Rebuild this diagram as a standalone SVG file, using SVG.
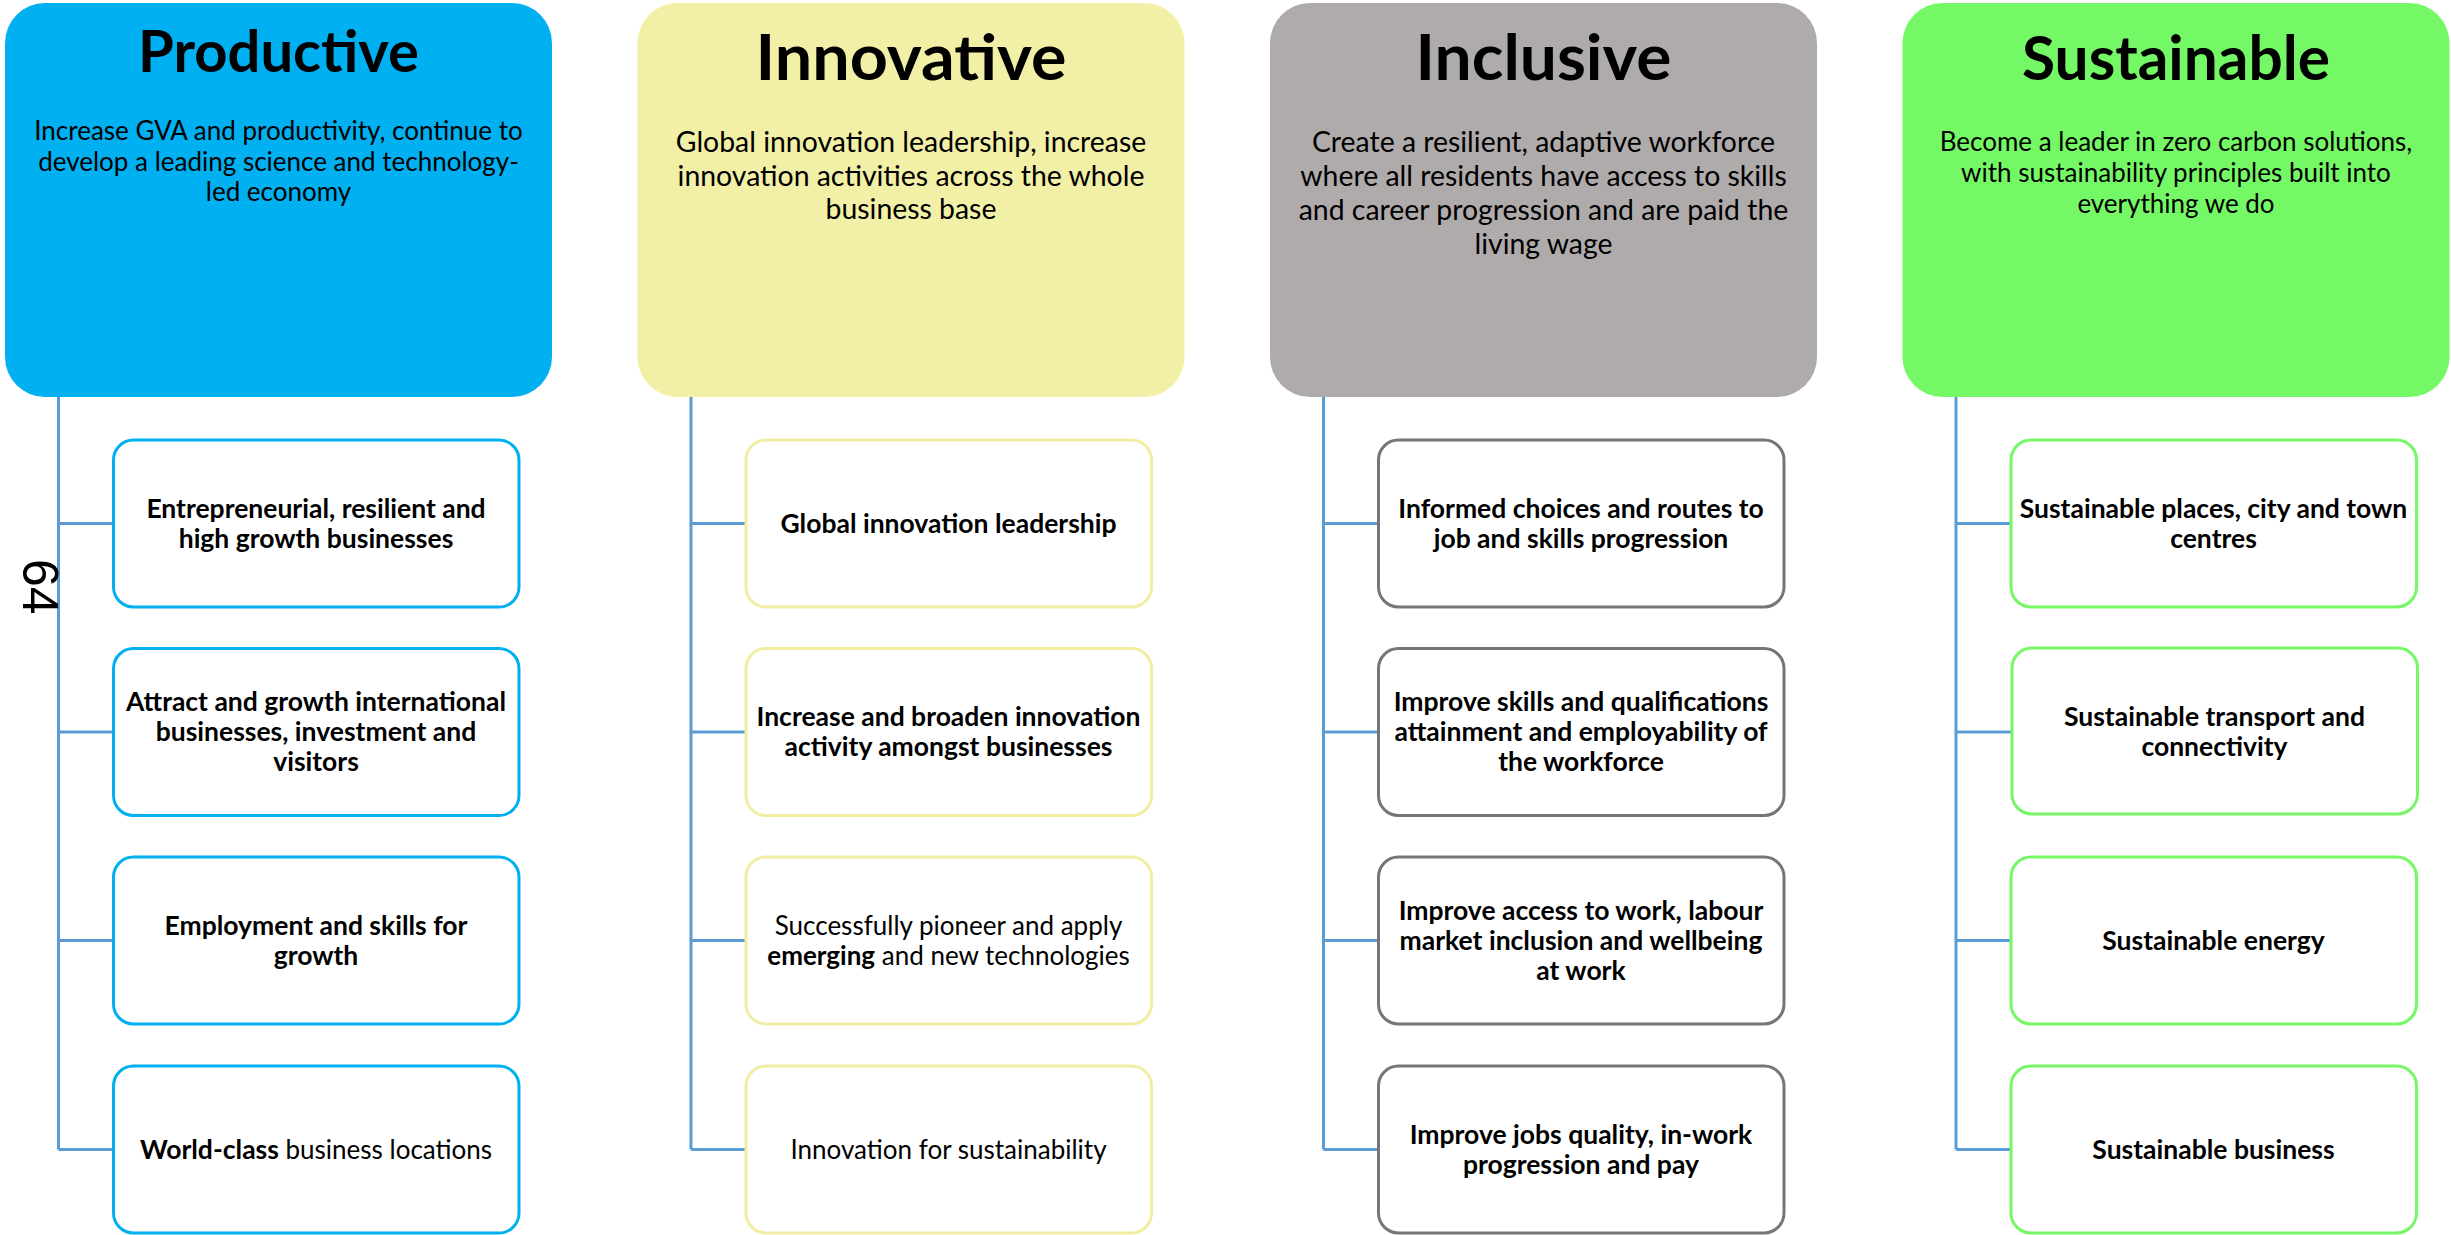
<svg xmlns="http://www.w3.org/2000/svg" width="2451" height="1235" viewBox="0 0 2451 1235">
<style>
text{font-family:Lato,"Open Sans","Liberation Sans",sans-serif;fill:#000;text-anchor:middle}
.title{font-weight:700}
.desc{font-size:26px}
.desc2{font-size:28.4px}
.ct{font-size:26.5px;font-weight:700}
.r{font-weight:400;font-size:26px}
.b{font-weight:700}
.conn{stroke:#5B9BD5;stroke-width:3;fill:none}
.c1{fill:#fff;stroke:#00B0F0;stroke-width:3}
.c2{fill:#fff;stroke:#F1EEA3;stroke-width:3}
.c3{fill:#fff;stroke:#767676;stroke-width:3}
.c4{fill:#fff;stroke:#75F766;stroke-width:3}
.page{font-family:"Liberation Sans",Arial,sans-serif;font-size:50px;text-anchor:start}
</style>
<rect width="2451" height="1235" fill="#fff"/>

<g id="connectors">
<path class="conn" d="M58.5 397V1149.5M58.5 523.5H113.5M58.5 732H113.5M58.5 940.5H113.5M58.5 1149.5H113.5"/>
<path class="conn" d="M691 397V1149.5M691 523.5H746M691 732H746M691 940.5H746M691 1149.5H746"/>
<path class="conn" d="M1323.5 397V1149.5M1323.5 523.5H1378.5M1323.5 732H1378.5M1323.5 940.5H1378.5M1323.5 1149.5H1378.5"/>
<path class="conn" d="M1956 397V1149.5M1956 523.5H2011M1956 732H2011M1956 940.5H2011M1956 1149.5H2011"/>
</g>

<g id="productive">
<rect x="5" y="3" width="547" height="394" rx="40" fill="#00B0F0"/>
<text class="title" x="278.5" y="72" font-size="57" textLength="281" lengthAdjust="spacingAndGlyphs">Productive</text>
<text class="desc" x="278.5" y="140">Increase GVA and productivity, continue to</text>
<text class="desc" x="278.5" y="170.5">develop a leading science and technology-</text>
<text class="desc" x="278.5" y="201">led economy</text>
</g>
<g id="innovative">
<rect x="637.5" y="3" width="547" height="394" rx="40" fill="#F2EFA6"/>
<text class="title" x="911" y="80" font-size="64" textLength="311" lengthAdjust="spacingAndGlyphs">Innovative</text>
<text class="desc2" x="911" y="152">Global innovation leadership, increase</text>
<text class="desc2" x="911" y="185.5">innovation activities across the whole</text>
<text class="desc2" x="911" y="219">business base</text>
</g>
<g id="inclusive">
<rect x="1270" y="3" width="547" height="394" rx="40" fill="#AFABAB"/>
<text class="title" x="1543.5" y="80" font-size="64" textLength="256" lengthAdjust="spacingAndGlyphs">Inclusive</text>
<text class="desc2" x="1543.5" y="152">Create a resilient, adaptive workforce</text>
<text class="desc2" x="1543.5" y="186">where all residents have access to skills</text>
<text class="desc2" x="1543.5" y="220">and career progression and are paid the</text>
<text class="desc2" x="1543.5" y="254">living wage</text>
</g>
<g id="sustainable">
<rect x="1902.5" y="3" width="547" height="394" rx="40" fill="#75F866"/>
<text class="title" x="2176" y="80" font-size="61" textLength="308" lengthAdjust="spacingAndGlyphs">Sustainable</text>
<text class="desc" x="2176" y="150.5">Become a leader in zero carbon solutions,</text>
<text class="desc" x="2176" y="181.5">with sustainability principles built into</text>
<text class="desc" x="2176" y="212.5">everything we do</text>
</g>

<g id="p1"><rect class="c1" x="113.5" y="440" width="405.5" height="167" rx="20"/>
<text class="ct" x="316" y="517.5">Entrepreneurial, resilient and</text>
<text class="ct" x="316" y="547.5">high growth businesses</text></g>
<g id="p2"><rect class="c1" x="113.5" y="648.5" width="405.5" height="167" rx="20"/>
<text class="ct" x="316" y="711">Attract and growth international</text>
<text class="ct" x="316" y="741">businesses, investment and</text>
<text class="ct" x="316" y="771">visitors</text></g>
<g id="p3"><rect class="c1" x="113.5" y="857" width="405.5" height="167" rx="20"/>
<text class="ct" x="316" y="934.5">Employment and skills for</text>
<text class="ct" x="316" y="964.5">growth</text></g>
<g id="p4"><rect class="c1" x="113.5" y="1066" width="405.5" height="167" rx="20"/>
<text class="ct" x="316" y="1158.5"><tspan class="b">World-class</tspan><tspan class="r"> business locations</tspan></text></g>

<g id="i1"><rect class="c2" x="746" y="440" width="405.5" height="167" rx="20"/>
<text class="ct" x="948.5" y="532.5">Global innovation leadership</text></g>
<g id="i2"><rect class="c2" x="746" y="648.5" width="405.5" height="167" rx="20"/>
<text class="ct" x="948.5" y="726">Increase and broaden innovation</text>
<text class="ct" x="948.5" y="756">activity amongst businesses</text></g>
<g id="i3"><rect class="c2" x="746" y="857" width="405.5" height="167" rx="20"/>
<text class="ct r" x="948.5" y="934.5">Successfully pioneer and apply</text>
<text class="ct r" x="948.5" y="964.5"><tspan class="b">emerging</tspan> and new technologies</text></g>
<g id="i4"><rect class="c2" x="746" y="1066" width="405.5" height="167" rx="20"/>
<text class="ct r" x="948.5" y="1158.5">Innovation for sustainability</text></g>

<g id="n1"><rect class="c3" x="1378.5" y="440" width="405.5" height="167" rx="20"/>
<text class="ct" x="1581" y="517.5">Informed choices and routes to</text>
<text class="ct" x="1581" y="547.5">job and skills progression</text></g>
<g id="n2"><rect class="c3" x="1378.5" y="648.5" width="405.5" height="167" rx="20"/>
<text class="ct" x="1581" y="711">Improve skills and qualifications</text>
<text class="ct" x="1581" y="741">attainment and employability of</text>
<text class="ct" x="1581" y="771">the workforce</text></g>
<g id="n3"><rect class="c3" x="1378.5" y="857" width="405.5" height="167" rx="20"/>
<text class="ct" x="1581" y="919.5">Improve access to work, labour</text>
<text class="ct" x="1581" y="949.5">market inclusion and wellbeing</text>
<text class="ct" x="1581" y="979.5">at work</text></g>
<g id="n4"><rect class="c3" x="1378.5" y="1066" width="405.5" height="167" rx="20"/>
<text class="ct" x="1581" y="1143.5">Improve jobs quality, in-work</text>
<text class="ct" x="1581" y="1173.5">progression and pay</text></g>

<g id="s1"><rect class="c4" x="2011" y="440" width="405.5" height="167" rx="20"/>
<text class="ct" x="2213.5" y="517.5">Sustainable places, city and town</text>
<text class="ct" x="2213.5" y="547.5">centres</text></g>
<g id="s2"><rect class="c4" x="2012" y="648" width="405.5" height="166" rx="20"/>
<text class="ct" x="2214.5" y="725.5">Sustainable transport and</text>
<text class="ct" x="2214.5" y="755.5">connectivity</text></g>
<g id="s3"><rect class="c4" x="2011" y="857" width="405.5" height="167" rx="20"/>
<text class="ct" x="2213.5" y="949.5">Sustainable energy</text></g>
<g id="s4"><rect class="c4" x="2011" y="1066" width="405.5" height="167" rx="20"/>
<text class="ct" x="2213.5" y="1158.5">Sustainable business</text></g>

<text class="page" transform="translate(23,559) rotate(90)">64</text>
</svg>
